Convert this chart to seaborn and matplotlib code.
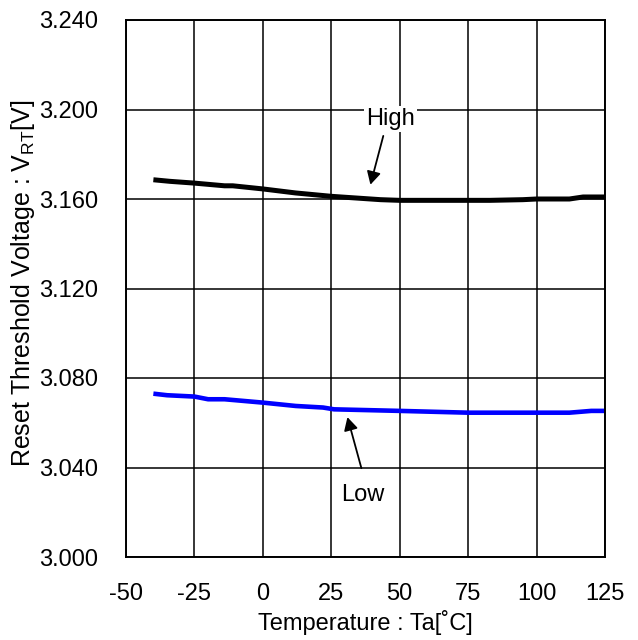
import matplotlib
matplotlib.use("Agg")
import matplotlib.pyplot as plt
import seaborn as sns
import pandas as pd

# Data
temp_high = [-40, -34, -25, -14, -11, 0, 12, 25, 43, 50, 83, 95, 100, 112, 117, 125]
vrt_high = [3.1686, 3.1679, 3.1671, 3.1659, 3.1659, 3.1645, 3.1627, 3.1612, 3.1597,
            3.1594, 3.1594, 3.1597, 3.1600, 3.1600, 3.1609, 3.1609]
temp_low = [-40, -35, -25, -20, -14, 0, 12, 22, 26, 50, 75, 112, 120, 125]
vrt_low = [3.0730, 3.0723, 3.0717, 3.0705, 3.0705, 3.0690, 3.0675, 3.0668, 3.0660,
           3.0653, 3.0645, 3.0645, 3.0653, 3.0653]
x_ticks = [-50, -25, 0, 25, 50, 75, 100, 125]
y_ticks = [3.000, 3.040, 3.080, 3.120, 3.160, 3.200, 3.240]

df_high = pd.DataFrame({"Temperature": temp_high, "VRT": vrt_high})
df_low = pd.DataFrame({"Temperature": temp_low, "VRT": vrt_low})

sns.set_theme(style="white")
plt.rcParams['font.family'] = ['Liberation Sans', 'DejaVu Sans']
plt.rcParams['mathtext.fontset'] = 'custom'
plt.rcParams['mathtext.rm'] = 'Liberation Sans'

FS = 17

fig = plt.figure(figsize=(6.38, 6.40), dpi=100)
ax = fig.add_axes([126/638, 1 - 557/640, (605-126)/638, (557-20)/640])

sns.lineplot(data=df_high, x="Temperature", y="VRT", ax=ax, color="black", lw=3.6,
             zorder=3, solid_capstyle="butt")
sns.lineplot(data=df_low, x="Temperature", y="VRT", ax=ax, color="#0000FF", lw=3.3,
             zorder=3, solid_capstyle="butt")

ax.set_xlim(-50, 125)
ax.set_ylim(3.000, 3.240)
ax.set_xticks(x_ticks)
ax.set_yticks(y_ticks)
ax.set_xticklabels([str(v) for v in x_ticks])
ax.set_yticklabels([f"{v:.3f}" for v in y_ticks])
ax.grid(True, color="black", lw=1.1)
ax.tick_params(axis="both", length=0, labelsize=FS, colors="black")
ax.tick_params(axis="y", pad=20)
ax.tick_params(axis="x", pad=19)
for s in ax.spines.values():
    s.set_color("black")
    s.set_linewidth(1.4)
    s.set_zorder(4)

ax.set_xlabel("Temperature : Ta[˚C]", fontsize=FS, color="black", labelpad=3)
ax.set_ylabel(r"Reset Threshold Voltage : V$_\mathregular{RT}$[V]", fontsize=18,
              color="black")
ax.yaxis.set_label_coords(-0.186, 0.51)

# annotations
ax.text(46.6, 3.1931, "High", fontsize=FS, ha="center", va="baseline", color="black",
        bbox=dict(boxstyle="square,pad=0.08", fc="white", ec="none"), zorder=5)
ax.annotate("", xy=(39.3, 3.1664), xytext=(44.0, 3.1882),
            arrowprops=dict(arrowstyle="-|>,head_length=0.65,head_width=0.35",
                            color="black", lw=1.3, shrinkA=0, shrinkB=0),
            zorder=5)
ax.text(36.5, 3.0250, "Low", fontsize=FS, ha="center", va="baseline", color="black",
        zorder=5)
ax.annotate("", xy=(30.9, 3.0625), xytext=(36.0, 3.0397),
            arrowprops=dict(arrowstyle="-|>,head_length=0.65,head_width=0.35",
                            color="black", lw=1.3, shrinkA=0, shrinkB=0),
            zorder=5)

fig.savefig("out.png", dpi=100, facecolor="white")
